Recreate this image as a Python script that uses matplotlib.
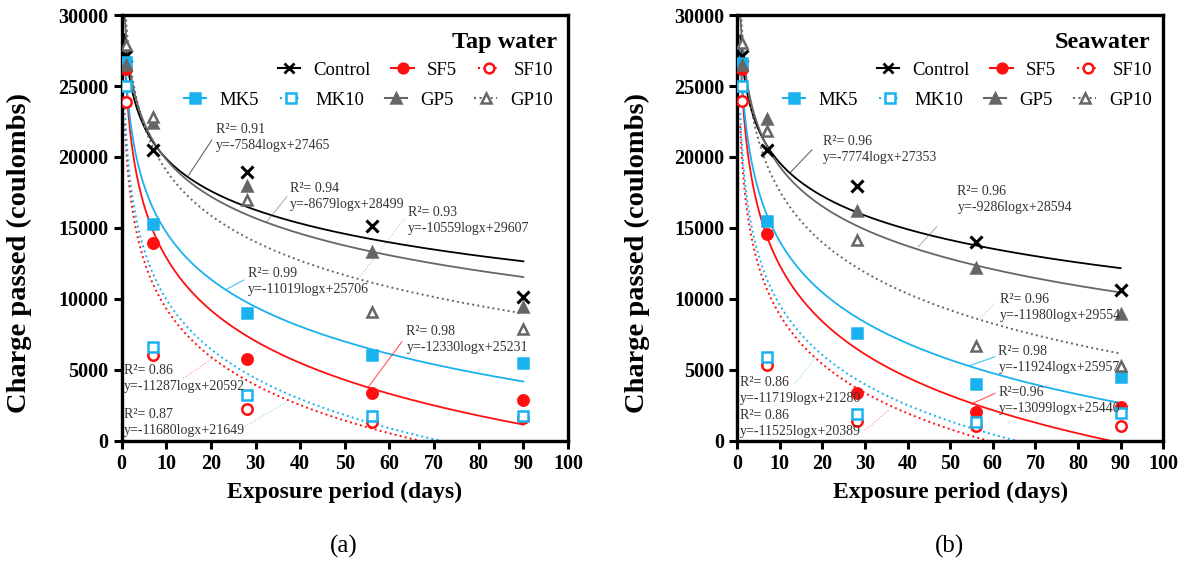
import numpy as np
import matplotlib.pyplot as plt
from matplotlib.lines import Line2D

plt.rcParams['font.family'] = ['Liberation Serif', 'DejaVu Serif']

# exposure days
days = [1, 7, 28, 56, 90]

# tap water (a)
tap_control = [27100, 20500, 18950, 15150, 10150]
tap_sf5 = [26200, 13950, 5750, 3350, 2900]
tap_sf10 = [23900, 6050, 2250, 1300, 1600]
tap_mk5 = [26700, 15300, 9000, 6050, 5500]
tap_mk10 = [25000, 6600, 3200, 1750, 1750]
tap_gp5 = [26500, 22400, 17950, 13300, 9400]
tap_gp10 = [27900, 22800, 17000, 9050, 7850]

# seawater (b)
sea_control = [27100, 20500, 17950, 13980, 10650]
sea_sf5 = [26200, 14550, 3350, 2000, 2400]
sea_sf10 = [23950, 5350, 1400, 1050, 1050]
sea_mk5 = [26650, 15500, 7600, 4000, 4500]
sea_mk10 = [25000, 5900, 1900, 1350, 1950]
sea_gp5 = [26500, 22650, 16200, 12150, 8900]
sea_gp10 = [28000, 21800, 14150, 6700, 5250]

series_names = ['Control', 'SF5', 'SF10', 'MK5', 'MK10', 'GP5', 'GP10']

# log10 fit coefficients (slope, intercept) and R2 per series
tap_fit_a = [-7584, -12330, -11287, -11019, -11680, -8679, -10559]
tap_fit_b = [27465, 25231, 20592, 25706, 21649, 28499, 29607]
tap_r2 = ['0.91', '0.98', '0.86', '0.99', '0.87', '0.94', '0.93']
sea_fit_a = [-7774, -13099, -11525, -11924, -11719, -9286, -11980]
sea_fit_b = [27353, 25440, 20389, 25957, 21280, 28594, 29554]
sea_r2 = ['0.96', '0.96', '0.86', '0.98', '0.86', '0.96', '0.96']

# label text anchor (x, y centre) and leader (x0, y0, x1, y1)
tap_lbl = [(21.1, 21400), (63.8, 7150), (0.5, 4350), (28.3, 11200), (0.5, 1300), (37.8, 17200), (64.2, 15500)]
tap_lead = [(15.0, 18720, 20.2, 21190), (55.3, 3800, 62.8, 6980), (13.8, 4400, 20.5, 5810),
            (23.2, 10620, 27.3, 11320), (27.6, 990, 37.0, 2750), (32.5, 15430, 37.0, 17200),
            (53.4, 11560, 63.5, 15700)]
sea_lbl = [(20.2, 20500), (61.3, 2830), (0.6, 1180), (61.3, 5720), (0.6, 3550), (51.7, 17030), (61.7, 9400)]
sea_lead = [(12.4, 18890, 17.5, 20490), (55.0, 2590, 60.5, 3340), (30.0, 750, 35.8, 2210),
            (54.6, 5290, 60.5, 5920), (13.5, 4040, 18.6, 5920), (42.5, 13670, 46.8, 15080),
            (57.0, 8630, 60.5, 9680)]
sea_r2_sep = ['= ', '=', '= ', '= ', '= ', '= ', '= ']

BLUE = '#1AB2EE'
RED = '#FF1010'
GREY = '#666666'
colors = ['black', RED, RED, BLUE, BLUE, GREY, GREY]
markers = ['x', 'o', 'o', 's', 's', '^', '^']
filled = [True, True, False, True, False, True, False]
styles = ['-', '-', ':', '-', ':', '-', ':']
lead_alpha = [0.6, 0.7, 0.5, 0.8, 0.5, 0.5, 0.4]


def draw_panel(ax, data, fa, fb, r2, lbl, lead, title, seps, leg_x, title_x, ylab_x):
    xs = np.linspace(0.7, 90, 600)
    for i in range(7):
        c = colors[i]
        ax.plot(xs, fa[i] * np.log10(xs) + fb[i], color=c, ls=styles[i],
                lw=1.3 if styles[i] == '-' else 1.4, zorder=2)
    for i in range(7):
        c = colors[i]
        if markers[i] == 'x':
            ax.plot(days, data[i], 'x', color=c, ms=8, mew=2.2, ls='none', zorder=4)
        else:
            ax.plot(days, data[i], markers[i], color=c, ms=7.5, mew=1.8,
                    mfc=c if filled[i] else 'white', ls='none', zorder=4)
    for i in range(7):
        x0, y0, x1, y1 = lead[i]
        ax.plot([x0, x1], [y0, y1], color=colors[i], lw=0.8, alpha=lead_alpha[i],
                ls=':' if styles[i] == ':' else '-', zorder=3)
        ax.text(lbl[i][0], lbl[i][1], 'R²' + seps[i] + r2[i] + '\ny=' + str(fa[i]) + 'logx+' + str(fb[i]),
                fontsize=10, color='#333333', va='center', ha='left', linespacing=1.3, zorder=5)

    ax.set_xlim(0, 100)
    ax.set_ylim(0, 30000)
    ax.set_xticks(range(0, 101, 10))
    ax.set_yticks(range(0, 30001, 5000))
    for s in ax.spines.values():
        s.set_linewidth(2.4)
    ax.tick_params(width=2.2, length=6, labelsize=14.5)
    for t in ax.get_xticklabels() + ax.get_yticklabels():
        t.set_fontweight('bold')
    ax.set_xlabel('Exposure period (days)', fontsize=17, fontweight='bold', labelpad=6)
    ax.set_ylabel('Charge passed (coulombs)', fontsize=20.5, fontweight='bold')
    ax.yaxis.set_label_coords(ylab_x, 0.44)
    ax.text(title_x, 0.935, title, transform=ax.transAxes, ha='right', va='center',
            fontsize=17.5, fontweight='bold')

    handles = []
    for i in range(7):
        c = colors[i]
        if markers[i] == 'x':
            h = Line2D([], [], color=c, ls='-', lw=1.5, marker='x', ms=7, mew=2)
        else:
            h = Line2D([], [], color=c, ls=styles[i], lw=1.5, marker=markers[i], ms=7, mew=1.8,
                       mfc=c if filled[i] else 'white')
        handles.append(h)
    kw = dict(frameon=False, fontsize=13.5, handlelength=1.2, columnspacing=1.1,
              handletextpad=0.7, borderpad=0, borderaxespad=0)
    leg1 = ax.legend(handles[:3], series_names[:3], ncol=3, loc='center right',
                     bbox_to_anchor=(leg_x, 0.871), **kw)
    ax.add_artist(leg1)
    ax.legend(handles[3:], series_names[3:], ncol=4, loc='center right',
              bbox_to_anchor=(leg_x, 0.80), **kw)


fig = plt.figure(figsize=(11.87, 5.69), dpi=100)
ax1 = fig.add_axes([0.1025, 0.2255, 0.376, 0.748])
ax2 = fig.add_axes([0.6211, 0.2255, 0.3589, 0.748])

tap = [tap_control, tap_sf5, tap_sf10, tap_mk5, tap_mk10, tap_gp5, tap_gp10]
sea = [sea_control, sea_sf5, sea_sf10, sea_mk5, sea_mk10, sea_gp5, sea_gp10]
draw_panel(ax1, tap, tap_fit_a, tap_fit_b, tap_r2, tap_lbl, tap_lead, 'Tap water', ['= '] * 7,
           0.966, 0.975, -0.201)
draw_panel(ax2, sea, sea_fit_a, sea_fit_b, sea_r2, sea_lbl, sea_lead, 'Seawater', sea_r2_sep,
           0.973, 0.969, -0.205)

fig.text(0.29, 0.04, '(a)', ha='center', va='center', fontsize=18)
fig.text(0.80, 0.04, '(b)', ha='center', va='center', fontsize=18)

fig.savefig('out.png', dpi=100)
